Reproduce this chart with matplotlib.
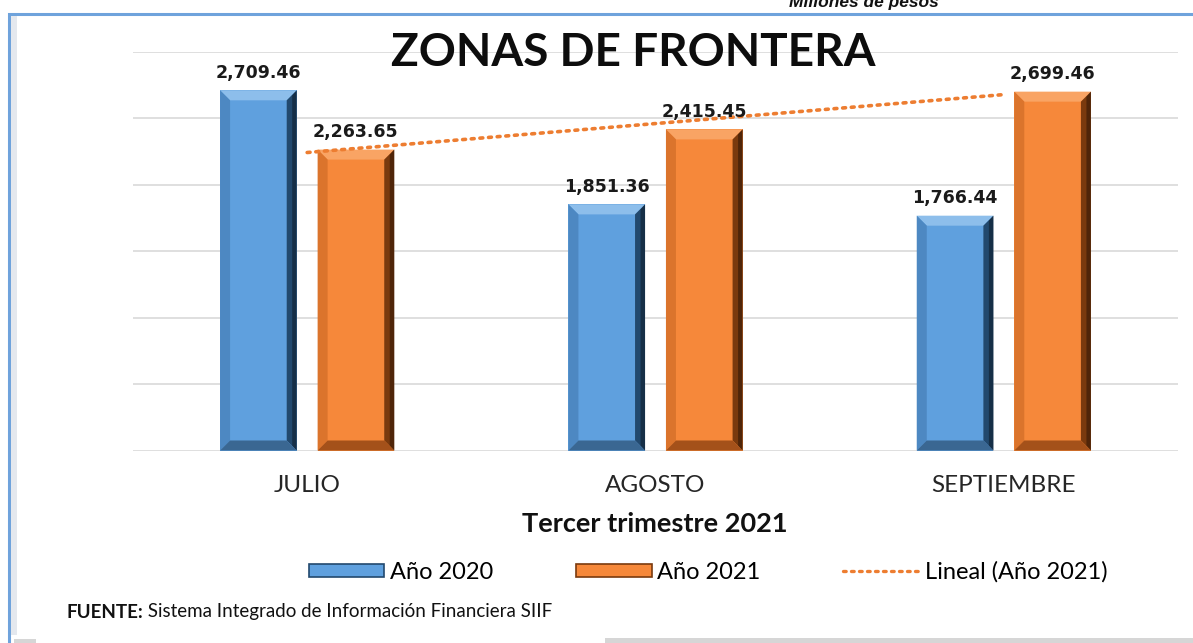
import numpy as np
import matplotlib
matplotlib.use("Agg")
import matplotlib.pyplot as plt
from matplotlib.patches import Polygon, Rectangle, Patch
from matplotlib.lines import Line2D

# ---- data ----
categories = ["JULIO", "AGOSTO", "SEPTIEMBRE"]
values_2020 = [2709.46, 1851.36, 1766.44]
values_2021 = [2263.65, 2415.45, 2699.46]
series_names = ["Año 2020", "Año 2021", "Lineal (Año 2021)"]
title = "ZONAS DE FRONTERA"
xlabel = "Tercer trimestre 2021"
units = "Millones de pesos"
source_bold = "FUENTE:"
source_text = " Sistema Integrado de Información Financiera SIIF"
yticks = [0, 500, 1000, 1500, 2000, 2500, 3000]

W, H = 1193, 643
fig = plt.figure(figsize=(W / 100, H / 100), dpi=100)
fig.patch.set_facecolor("white")

# frame (screenshot border)
fig.add_artist(Rectangle((9 / W, -0.05), 1.2, (H - 14) / H + 0.05, transform=fig.transFigure,
                         fill=False, edgecolor="#6FA3DC", linewidth=2.2))
fig.add_artist(Rectangle((11 / W, 8 / H), 6 / W, (H - 24) / H, transform=fig.transFigure,
                         facecolor="#E4E8EE", edgecolor="none"))
fig.add_artist(Rectangle((605 / W, 0), 1, 5 / H, transform=fig.transFigure,
                         facecolor="#D6D6D6", edgecolor="none"))
fig.add_artist(Rectangle((14 / W, 0), 22 / W, 4 / H, transform=fig.transFigure,
                         facecolor="#D6D6D6", edgecolor="none"))

ax_l, ax_r, ax_t, ax_b = 133, 1178, 51.7, 450.5
ax = fig.add_axes([ax_l / W, (H - ax_b) / H, (ax_r - ax_l) / W, (ax_b - ax_t) / H])
ax.set_xlim(-0.5, 2.5)
ax.set_ylim(0, 3000)
ax.set_yticks(yticks)
ax.set_yticklabels([])
ax.tick_params(left=False, bottom=False, labelbottom=False)
for s in ax.spines.values():
    s.set_visible(False)
ax.grid(axis="y", color="#D9D9D9", linewidth=1.2)
ax.set_axisbelow(True)

x = np.arange(len(categories))
bw = 0.22
off = 0.14
blue = dict(face="#5FA0DE", top="#8DBEEB", right="#22496E", left="#4D88C2", bottom="#3A6792")
orange = dict(face="#F6883A", top="#F9A464", right="#7A3A0E", left="#DB742C", bottom="#A4511A")

b1 = ax.bar(x - off, values_2020, bw, color=blue["face"], zorder=2)
b2 = ax.bar(x + off, values_2021, bw, color=orange["face"], zorder=2)

ax_w_px = ax_r - ax_l
ax_h_px = ax_b - ax_t
bev = 10
dx = bev / ax_w_px * 3.0
dy = bev / ax_h_px * 3000


def bevel(container, c):
    for p in container.patches:
        x0, w, h = p.get_x(), p.get_width(), p.get_height()
        x1 = x0 + w
        polys = [
            ([(x0, h), (x1, h), (x1 - dx, h - dy), (x0 + dx, h - dy)], c["top"]),
            ([(x1, h), (x1, 0), (x1 - dx, dy), (x1 - dx, h - dy)], c["right"]),
            ([(x0, h), (x0, 0), (x0 + dx, dy), (x0 + dx, h - dy)], c["left"]),
            ([(x0, 0), (x1, 0), (x1 - dx, dy), (x0 + dx, dy)], c["bottom"]),
        ]
        for pts, col in polys:
            ax.add_patch(Polygon(pts, closed=True, facecolor=col, edgecolor="none", zorder=3))
        ax.add_patch(Polygon([(x1 - dx * 0.45, h - dy * 0.5), (x1 - dx * 0.45, dy * 0.5),
                              (x1, 0), (x1, h)], closed=True, facecolor="#000000",
                             alpha=0.35, edgecolor="none", zorder=3))


bevel(b1, blue)
bevel(b2, orange)

for bars, vals in ((b1, values_2020), (b2, values_2021)):
    for p, v in zip(bars.patches, vals):
        ax.annotate(f"{v:,.2f}", (p.get_x() + p.get_width() / 2, v), xytext=(0, 6),
                    textcoords="offset points", ha="center", va="bottom",
                    fontsize=12.5, fontweight="bold", family="DejaVu Sans", color="#1A1A1A",
                    zorder=5)

# linear trendline of 2021
coef = np.polyfit(x, values_2021, 1)
trend = np.polyval(coef, x)
ax.plot(x, trend, color="#ED7D31", linewidth=2.6, linestyle=(0, (0.8, 1.6)),
        dash_capstyle="round", zorder=4)

# category labels
for xi, c in zip(x, categories):
    ax.annotate(c, (xi, 0), xytext=(0, -35), textcoords="offset pixels",
                ha="center", va="center", fontsize=17.5, family="Lato",
                color="#262626", annotation_clip=False)

fig.text(633 / W, (H - 53) / H, title, ha="center", va="center", fontsize=33,
         fontweight="bold", family="Lato", color="#0D0D0D")
fig.text(864 / W, (H - 3) / H, units, ha="center", va="center", fontsize=12.5,
         fontweight="bold", style="italic", family="Liberation Sans", color="#111111")
fig.text(655 / W, (H - 524) / H, xlabel, ha="center", va="center", fontsize=19.5,
         fontweight="bold", family="Lato", color="#111111")

handles = [
    Patch(facecolor=blue["face"], edgecolor=blue["right"], linewidth=1.2),
    Patch(facecolor=orange["face"], edgecolor=orange["right"], linewidth=1.2),
    Line2D([], [], color="#ED7D31", linewidth=2.4, linestyle=(0, (0.8, 1.6)),
           dash_capstyle="round"),
]
leg = fig.legend(handles, series_names, loc="center", bbox_to_anchor=(708 / W, (H - 572) / H),
                 ncol=3, frameon=False, prop={"family": "Lato", "size": 17},
                 handlelength=3.2, handleheight=0.5, handletextpad=0.25, columnspacing=3.5)

t1 = fig.text(66 / W, (H - 612) / H, source_bold, ha="left", va="center", fontsize=13.5,
              fontweight="bold", family="Lato", color="#111111")
fig.canvas.draw()
bb = t1.get_window_extent()
fig.text(bb.x1 / W, (H - 612) / H, source_text, ha="left", va="center", fontsize=13.5,
         family="Lato", color="#111111")

fig.savefig("out.png", dpi=100, facecolor="white")
